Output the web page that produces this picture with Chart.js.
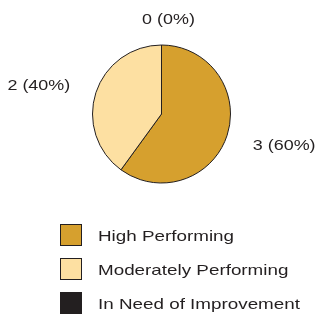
<!DOCTYPE html>
<html>
<head>
<meta charset="utf-8">
<script src="https://cdn.jsdelivr.net/npm/chart.js@4/dist/chart.umd.min.js"></script>
<style>
  html, body { margin: 0; padding: 0; background: #fff; }
  canvas { display: block; }
</style>
</head>
<body>
<canvas id="grafica" width="320" height="314"></canvas>
<script>
// datos del grafico
var categorias = ['High Performing', 'Moderately Performing', 'In Need of Improvement'];
var valores = [3, 2, 0];
var colores = ['#d6a02e', '#fde0a2', '#231f20'];

var TINTA = '#231f20';

// el texto del original sale mas ancho, se estira a lo horizontal
function textoAncho(ctx, txt, x, y, align, estirar) {
    ctx.save();
    ctx.translate(x, y);
    ctx.scale(estirar, 1);
    ctx.textAlign = align;
    ctx.fillText(txt, 0, 0);
    ctx.restore();
}

// etiquetas "n (x%)" fuera de cada porcion
var etiquetas = {
    id: 'etiquetas',
    afterDatasetsDraw: function(chart) {
        var ctx = chart.ctx;
        var meta = chart.getDatasetMeta(0);
        var total = valores.reduce(function(a, b) { return a + b; }, 0);
        ctx.save();
        ctx.font = '14px "Liberation Sans", Arial, sans-serif';
        ctx.fillStyle = TINTA;
        ctx.textBaseline = 'middle';
        meta.data.forEach(function(arco, i) {
            var p = arco.getProps(['x', 'y', 'startAngle', 'endAngle', 'outerRadius'], true);
            var medio = (p.startAngle + p.endAngle) / 2;
            var c = Math.cos(medio), s = Math.sin(medio);
            var r = p.outerRadius + 27;
            var tx = p.x + c * r;
            var ty = p.y + s * r + 2;
            var align = c > 0.3 ? 'left' : (c < -0.3 ? 'right' : 'center');
            if (align === 'center') tx += 7;
            var pct = Math.round(valores[i] / total * 100);
            textoAncho(ctx, valores[i] + ' (' + pct + '%)', tx, ty, align, 1.28);
        });
        ctx.restore();
    }
};

// leyenda vertical debajo del pastel
var leyenda = {
    id: 'leyenda',
    afterDraw: function(chart) {
        var ctx = chart.ctx;
        ctx.save();
        ctx.font = '15px "Liberation Sans", Arial, sans-serif';
        ctx.textBaseline = 'middle';
        for (var i = 0; i < categorias.length; i++) {
            var y = 224.5 + i * 34;
            ctx.fillStyle = colores[i];
            ctx.fillRect(60.5, y, 21, 21);
            ctx.strokeStyle = TINTA;
            ctx.lineWidth = 1;
            ctx.strokeRect(60.5, y, 21, 21);
            ctx.fillStyle = TINTA;
            textoAncho(ctx, categorias[i], 98, y + 12, 'left', 1.255);
        }
        ctx.restore();
    }
};

new Chart(document.getElementById('grafica'), {
    type: 'pie',
    data: {
        labels: categorias,
        datasets: [{
            data: valores,
            backgroundColor: colores,
            borderColor: TINTA,
            borderWidth: 1
        }]
    },
    options: {
        responsive: false,
        devicePixelRatio: 1,
        animation: false,
        layout: { padding: { top: 44, bottom: 130, left: 92, right: 89 } },
        plugins: {
            legend: { display: false },
            tooltip: { enabled: false }
        }
    },
    plugins: [etiquetas, leyenda]
});
</script>
</body>
</html>
